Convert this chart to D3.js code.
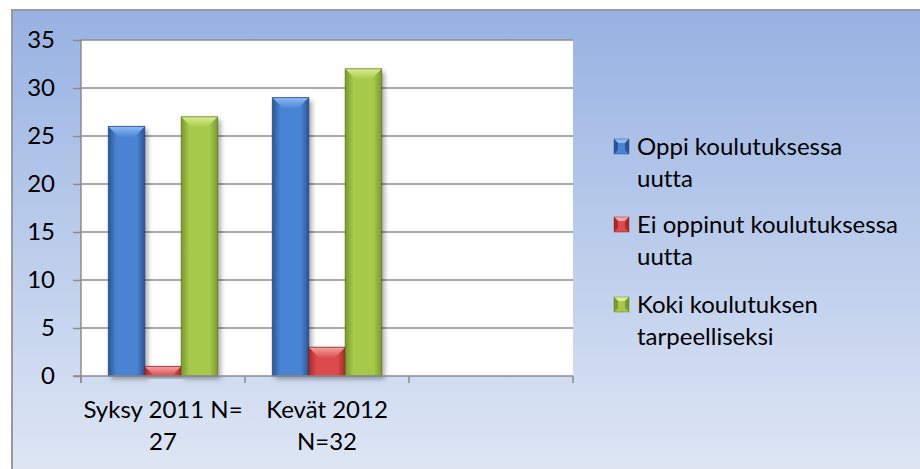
<!DOCTYPE html>
<html>
<head>
<meta charset="utf-8">
<script src="https://cdn.jsdelivr.net/npm/d3@7"></script>
<style>
  body { margin: 0; background: #fff; }
  svg text { font-family: Lato, "Open Sans", sans-serif; fill: #000; font-variant-ligatures: none; }
</style>
</head>
<body>
<div id="chart"></div>
<script>
// chart data
var categories = ["Syksy 2011 N= 27", "Kevät 2012 N=32", "empty"];
var categoryLines = [["Syksy 2011 N=", "27"], ["Kevät 2012", "N=32"], []];
var seriesNames = ["Oppi koulutuksessa", "Ei oppinut koulutuksessa", "Koki koulutuksen"];
var legendLines = [["Oppi koulutuksessa", "uutta"], ["Ei oppinut koulutuksessa", "uutta"], ["Koki koulutuksen", "tarpeelliseksi"]];
var oppi = [26, 29, null];
var eiOppinut = [1, 3, null];
var koki = [27, 32, null];
var yTicks = [0, 5, 10, 15, 20, 25, 30, 35];

var seriesValues = [oppi, eiOppinut, koki];
var colors = [
  { mid: "#4a84d4", edge: "#2a5593", top: "#8dbcf7", stroke: "#1f3f6e" },
  { mid: "#dc4c4c", edge: "#a82a2a", top: "#f7a3a3", stroke: "#7a1c1c" },
  { mid: "#a6c94a", edge: "#7a992c", top: "#d7f08e", stroke: "#56701c" }
];

var W = 920, H = 469;
var plot = { left: 81, right: 573, top: 40, bottom: 376 };
var fontSize = "24px";

var svg = d3.select("#chart").append("svg")
  .attr("width", W).attr("height", H);

var defs = svg.append("defs");

var bg = defs.append("linearGradient").attr("id", "bg")
  .attr("x1", 0).attr("y1", 0).attr("x2", 0).attr("y2", 1);
bg.append("stop").attr("offset", "0%").attr("stop-color", "#97b2e2");
bg.append("stop").attr("offset", "100%").attr("stop-color", "#dfe7f4");

var shadow = defs.append("filter").attr("id", "shadow")
  .attr("x", "-30%").attr("y", "-30%").attr("width", "160%").attr("height", "160%");
shadow.append("feDropShadow").attr("dx", 3).attr("dy", 3).attr("stdDeviation", 2.5)
  .attr("flood-color", "#000").attr("flood-opacity", 0.35);

colors.forEach(function(c, i) {
  var g = defs.append("linearGradient").attr("id", "bar" + i)
    .attr("x1", 0).attr("y1", 0).attr("x2", 1).attr("y2", 0);
  g.append("stop").attr("offset", "0%").attr("stop-color", c.edge);
  g.append("stop").attr("offset", "22%").attr("stop-color", c.mid);
  g.append("stop").attr("offset", "78%").attr("stop-color", c.mid);
  g.append("stop").attr("offset", "100%").attr("stop-color", c.edge);
  var t = defs.append("linearGradient").attr("id", "top" + i)
    .attr("x1", 0).attr("y1", 0).attr("x2", 0).attr("y2", 1);
  t.append("stop").attr("offset", "0%").attr("stop-color", c.top);
  t.append("stop").attr("offset", "100%").attr("stop-color", c.mid);
});

// chart area background
svg.append("rect")
  .attr("x", 12).attr("y", 10).attr("width", W).attr("height", H)
  .attr("fill", "url(#bg)")
  .attr("stroke", "#999").attr("stroke-width", 2);

var x0 = d3.scaleBand().domain(categories).range([plot.left, plot.right]);
var x1 = d3.scaleBand().domain(seriesNames).range([0, x0.bandwidth()])
  .paddingInner(0).paddingOuter(0.75);
var y = d3.scaleLinear().domain([0, 35]).range([plot.bottom, plot.top]);

// plot area
svg.append("rect")
  .attr("x", plot.left).attr("y", plot.top)
  .attr("width", plot.right - plot.left).attr("height", plot.bottom - plot.top)
  .attr("fill", "#fff");

// gridlines
svg.append("g").selectAll("line").data(yTicks.filter(function(d) { return d > 0; }))
  .enter().append("line")
  .attr("x1", plot.left).attr("x2", plot.right)
  .attr("y1", function(d) { return y(d); }).attr("y2", function(d) { return y(d); })
  .attr("stroke", "#8c8c8c").attr("stroke-width", 1.5);

// y axis
var yAxis = d3.axisLeft(y).tickValues(yTicks).tickSize(8).tickPadding(18);
var yg = svg.append("g").attr("transform", "translate(" + plot.left + ",0)").call(yAxis);
yg.select(".domain").attr("stroke", "#8c8c8c").attr("stroke-width", 1.5)
  .attr("d", "M0," + (plot.top) + "V" + (plot.bottom + 7));
yg.selectAll(".tick line").attr("stroke", "#8c8c8c").attr("stroke-width", 1.5);
yg.selectAll(".tick text").style("font-size", fontSize).attr("fill", "#000");

// bars
var groups = svg.append("g").selectAll("g").data(categories).enter().append("g")
  .attr("transform", function(d) { return "translate(" + x0(d) + ",0)"; });

groups.each(function(cat, ci) {
  var g = d3.select(this);
  seriesNames.forEach(function(s, si) {
    var v = seriesValues[si][ci];
    if (v == null) return;
    var bx = x1(s), bw = x1.bandwidth();
    var by = y(v), bh = y(0) - y(v);
    var bar = g.append("g");
    bar.append("rect")
      .attr("x", bx).attr("y", by).attr("width", bw).attr("height", bh)
      .attr("fill", "url(#bar" + si + ")")
      .attr("filter", "url(#shadow)");
    var bev = Math.min(11, bh, bw / 2);
    bar.append("path")
      .attr("d", "M" + bx + "," + by + "H" + (bx + bw) + "L" + (bx + bw - bev) + "," + (by + bev) +
        "H" + (bx + bev) + "Z")
      .attr("fill", "url(#top" + si + ")");
    bar.append("rect")
      .attr("x", bx).attr("y", by).attr("width", bw).attr("height", bh)
      .attr("fill", "none").attr("stroke", colors[si].stroke).attr("stroke-opacity", 0.7)
      .attr("stroke-width", 1);
  });
});

// x axis
var xg = svg.append("g").attr("transform", "translate(0," + plot.bottom + ")");
xg.append("line").attr("x1", plot.left - 8).attr("x2", plot.right)
  .attr("stroke", "#8c8c8c").attr("stroke-width", 1.5);
var bounds = categories.map(function(d) { return x0(d); }).concat([plot.right]);
xg.selectAll(".xtick").data(bounds).enter().append("line")
  .attr("x1", function(d) { return d; }).attr("x2", function(d) { return d; })
  .attr("y1", 0).attr("y2", 7)
  .attr("stroke", "#8c8c8c").attr("stroke-width", 1.5);

categories.forEach(function(c, i) {
  var t = xg.append("text")
    .attr("x", x0(c) + x0.bandwidth() / 2)
    .attr("y", 42)
    .attr("text-anchor", "middle")
    .style("font-size", fontSize);
  categoryLines[i].forEach(function(line, li) {
    t.append("tspan").attr("x", x0(c) + x0.bandwidth() / 2)
      .attr("dy", li === 0 ? 0 : 32).text(line);
  });
});

// legend
var legendY = [147, 225, 305];
var lg = svg.append("g");
seriesNames.forEach(function(s, i) {
  var cy = legendY[i], mx = 614, ms = 15, my = cy - 8;
  var c = colors[i];
  var m = lg.append("g");
  m.append("rect").attr("x", mx).attr("y", my).attr("width", ms).attr("height", ms).attr("fill", c.mid);
  var b = 4;
  m.append("path").attr("fill", c.top)
    .attr("d", "M" + mx + "," + my + "H" + (mx + ms) + "L" + (mx + ms - b) + "," + (my + b) + "H" + (mx + b) + "Z");
  m.append("path").attr("fill", c.edge)
    .attr("d", "M" + mx + "," + my + "L" + (mx + b) + "," + (my + b) + "V" + (my + ms - b) + "L" + mx + "," + (my + ms) + "Z");
  m.append("path").attr("fill", c.edge)
    .attr("d", "M" + (mx + ms) + "," + my + "L" + (mx + ms - b) + "," + (my + b) + "V" + (my + ms - b) + "L" + (mx + ms) + "," + (my + ms) + "Z");
  m.append("rect").attr("x", mx).attr("y", my).attr("width", ms).attr("height", ms)
    .attr("fill", "none").attr("stroke", c.stroke).attr("stroke-opacity", 0.5).attr("stroke-width", 0.8);
  var t = lg.append("text").attr("x", 637).attr("y", cy + 8).style("font-size", fontSize);
  legendLines[i].forEach(function(line, li) {
    t.append("tspan").attr("x", 637).attr("dy", li === 0 ? 0 : 32).text(line);
  });
});
</script>
</body>
</html>
